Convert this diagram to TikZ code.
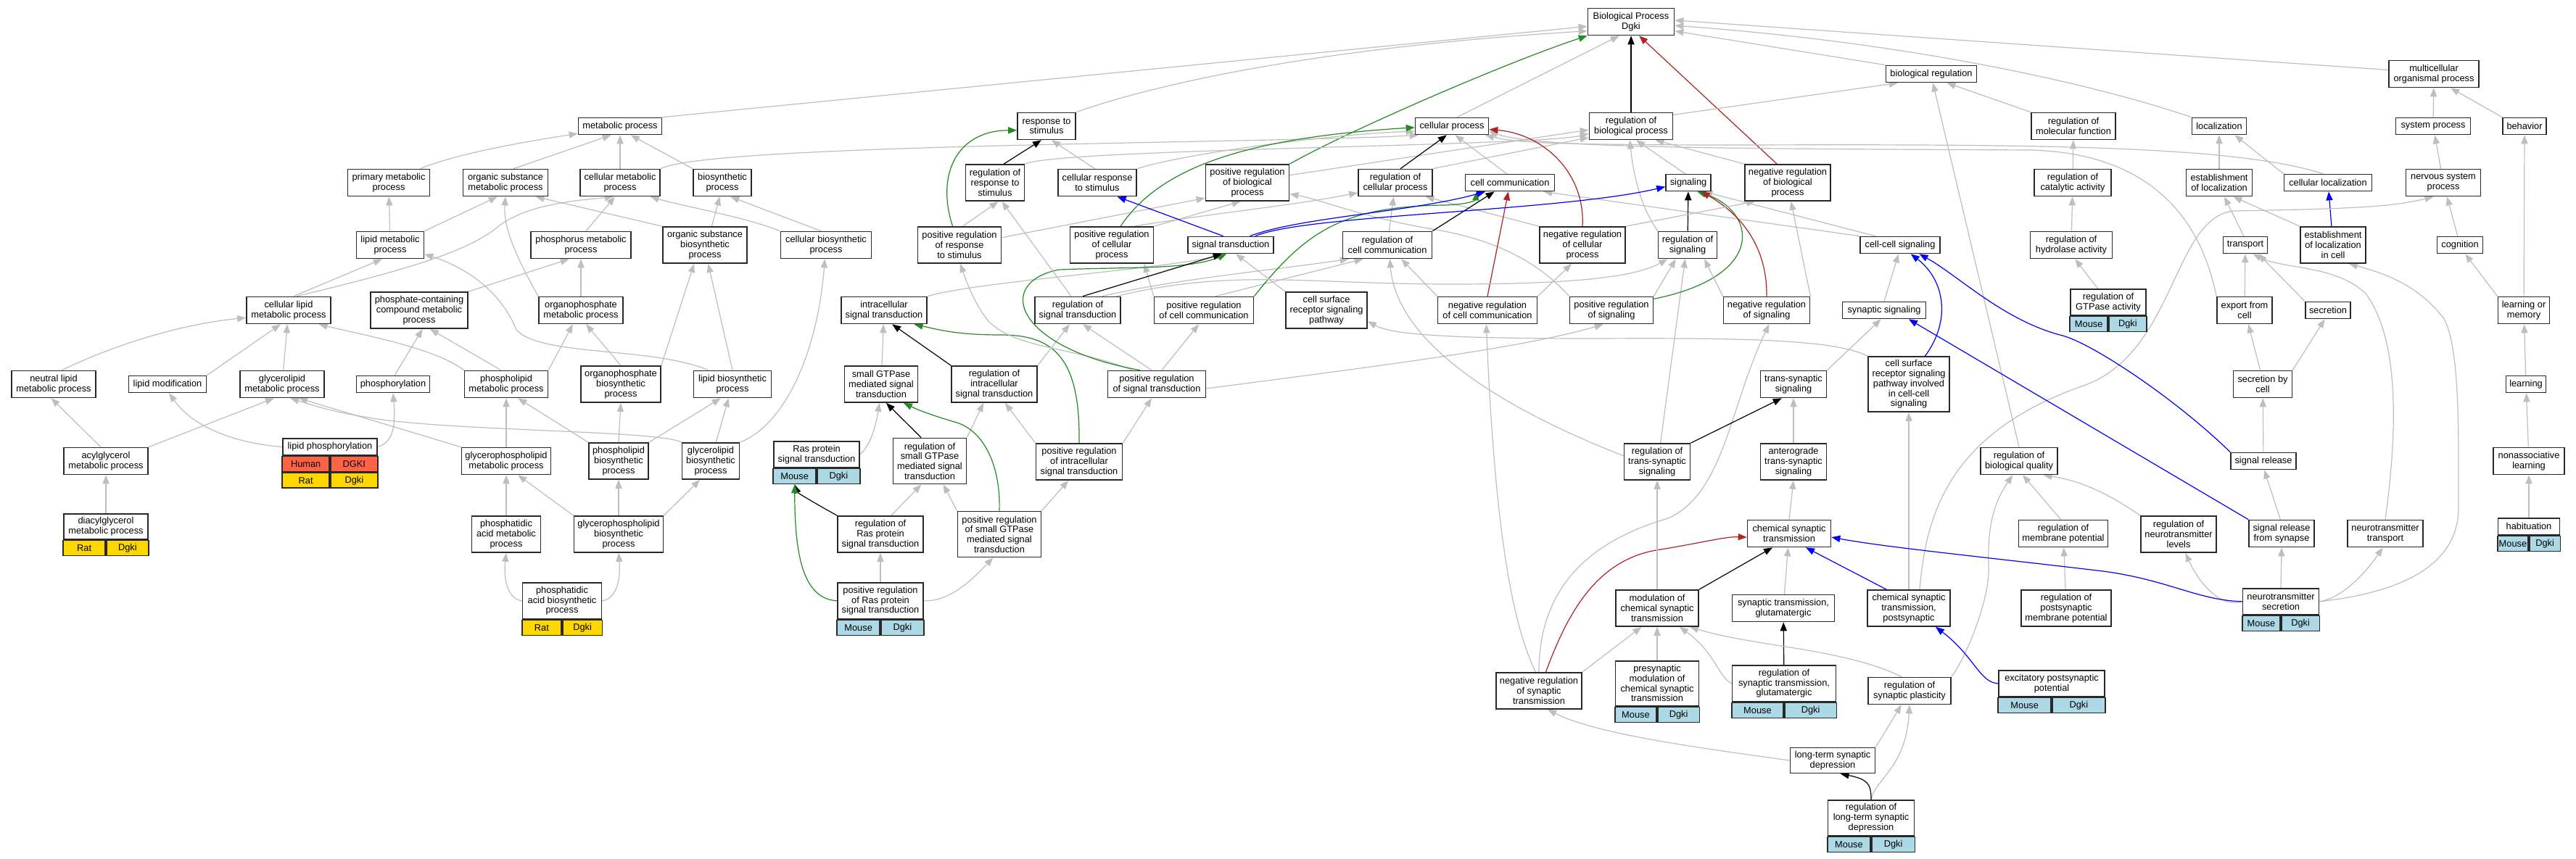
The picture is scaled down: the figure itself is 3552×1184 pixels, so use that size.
\documentclass[tikz,border=0pt]{standalone}
\usepackage{fontspec}
\setmainfont{Liberation Sans}
\usetikzlibrary{arrows.meta}
\definecolor{cgray}{RGB}{190,190,190}
\definecolor{cgreen}{RGB}{34,139,34}
\definecolor{cred}{RGB}{178,34,34}
\definecolor{cblue}{RGB}{0,0,255}
\definecolor{ctomato}{RGB}{255,99,71}
\definecolor{cgold}{RGB}{255,215,0}
\definecolor{clblue}{RGB}{173,216,230}
\definecolor{cborder}{RGB}{40,40,40}
\pgfdeclarelayer{backdrop}
\pgfdeclarelayer{edges}
\pgfsetlayers{backdrop,edges,main}
\tikzset{
  gobox/.style={draw=cborder, line width=0.85pt, fill=white, inner sep=0pt, align=center, font=\fontsize{6.4}{6.85}\selectfont},
  edgebase/.style={line width=0.6pt, -{Triangle[length=6pt,width=4.6pt]}},
  egray/.style={edgebase, draw=cgray},
  eblack/.style={edgebase, draw=black},
  egreen/.style={edgebase, draw=cgreen},
  ered/.style={edgebase, draw=cred},
  eblue/.style={edgebase, draw=cblue},
}
\newcommand\gn[6]{\node[gobox, minimum width=#4*0.5pt, minimum height=#5*0.5pt] (#1) at (#2,#3) {#6};}
\newcommand\gt[9]{%
  \node[gobox, minimum width=#4*0.5pt, minimum height=#5*0.5pt, anchor=north] (#1) at (#2,#3) {#6};
  \node[gobox, fill=#9, minimum width=#4*0.25pt, minimum height=10.5pt, anchor=north east] (#1-l) at (#1.south) {#7};
  \node[gobox, fill=#9, minimum width=#4*0.25pt, minimum height=10.5pt, anchor=north west] (#1-r) at (#1.south) {#8};
}
\begin{document}
\begin{tikzpicture}[x=0.5pt,y=-0.5pt]
\begin{pgfonlayer}{backdrop}
\fill[white] (0,0) rectangle (3552,1184);
\end{pgfonlayer}
\useasboundingbox (0,0) rectangle (3552,1184);
% ---------- nodes ----------
\gn{BP}{2249}{30}{119}{37}{Biological Process\\Dgki}
\gn{bioreg}{2663}{102}{125}{23}{biological regulation}
\gn{multi}{3356}{102}{124}{37}{multicellular\\organismal process}
\gn{metab}{855}{174}{115}{23}{metabolic process}
\gn{resp}{1443}{174}{80}{37}{response to\\stimulus}
\gn{cellproc}{2002}{174}{101}{23}{cellular process}
\gn{regbio}{2249}{174}{115}{37}{regulation of\\biological process}
\gn{regmol}{2859}{174}{116}{37}{regulation of\\molecular function}
\gn{loc}{3060}{174}{75}{23}{localization}
\gn{sysproc}{3355}{174}{103}{23}{system process}
\gn{behav}{3481}{174}{60}{23}{behavior}
%
\gn{primmet}{536}{252}{113}{37}{primary metabolic\\process}
\gn{orgmet}{697}{252}{117}{37}{organic substance\\metabolic process}
\gn{cellmet}{855}{252}{110}{37}{cellular metabolic\\process}
\gn{biosyn}{996}{252}{80}{37}{biosynthetic\\process}
\gn{regresp}{1372}{252}{81}{50}{regulation of\\response to\\stimulus}
\gn{cellresp}{1513}{252}{108}{37}{cellular response\\to stimulus}
\gn{posbio}{1720}{252}{115}{50}{positive regulation\\of biological\\process}
\gn{regcell}{1924}{252}{102}{37}{regulation of\\cellular process}
\gn{cellcomm}{2082}{252}{123}{23}{cell communication}
\gn{signaling}{2328}{252}{62}{23}{signaling}
\gn{negbio}{2465}{252}{118}{50}{negative regulation\\of biological\\process}
\gn{regcat}{2858}{252}{106}{37}{regulation of\\catalytic activity}
\gn{estloc}{3060}{252}{91}{37}{establishment\\of localization}
\gn{cellloc}{3210}{252}{121}{23}{cellular localization}
\gn{nervsys}{3369}{252}{103}{37}{nervous system\\process}
%
\gn{lipmet}{538}{338}{93}{37}{lipid metabolic\\process}
\gn{phosmet}{801}{338}{138}{37}{phosphorus metabolic\\process}
\gn{orgbiosyn}{972}{338}{116}{50}{organic substance\\biosynthetic\\process}
\gn{cellbiosyn}{1139}{338}{125}{37}{cellular biosynthetic\\process}
\gn{posresp}{1323}{338}{115}{50}{positive regulation\\of response\\to stimulus}
\gn{poscell}{1533}{338}{115}{50}{positive regulation\\of cellular\\process}
\gn{sigtrans}{1697}{338}{118}{23}{signal transduction}
\gn{regcomm}{1913}{338}{123}{37}{regulation of\\cell communication}
\gn{negcell}{2182}{338}{118}{50}{negative regulation\\of cellular\\process}
\gn{regsig}{2327}{338}{81}{37}{regulation of\\signaling}
\gn{cellcell}{2620}{338}{110}{23}{cell-cell signaling}
\gn{reghyd}{2856}{338}{113}{37}{regulation of\\hydrolase activity}
\gn{transport}{3096}{338}{61}{23}{transport}
\gn{estloccell}{3217}{338}{90}{50}{establishment\\of localization\\in cell}
\gn{cognition}{3392}{338}{63}{23}{cognition}
%
\gn{celllip}{398}{428}{116}{37}{cellular lipid\\metabolic process}
\gn{phoscont}{578}{428}{134}{50}{phosphate-containing\\compound metabolic\\process}
\gn{orgphosmet}{801}{428}{116}{37}{organophosphate\\metabolic process}
\gn{intrasig}{1219}{428}{118}{37}{intracellular\\signal transduction}
\gn{regsigtr}{1486}{428}{118}{37}{regulation of\\signal transduction}
\gn{poscomm}{1660}{428}{137}{37}{positive regulation\\of cell communication}
\gn{csrsp}{1829}{428}{112}{50}{cell surface\\receptor signaling\\pathway}
\gn{negcomm}{2051}{428}{137}{37}{negative regulation\\of cell communication}
\gn{possig}{2222}{428}{115}{37}{positive regulation\\of signaling}
\gn{negsig}{2436}{428}{119}{37}{negative regulation\\of signaling}
\gn{synsig}{2598}{428}{115}{23}{synaptic signaling}
\gt{regGTP}{2907}{398}{104}{36}{regulation of\\GTPase activity}{Mouse}{Dgki}{clblue}
\gn{export}{3095}{428}{76}{37}{export from\\cell}
\gn{secretion}{3210}{428}{62}{23}{secretion}
\gn{learnmem}{3480}{428}{71}{37}{learning or\\memory}
%
\gn{neutral}{74}{530}{116}{37}{neutral lipid\\metabolic process}
\gn{lipmod}{231}{530}{107}{23}{lipid modification}
\gn{glymet}{389}{530}{116}{37}{glycerolipid\\metabolic process}
\gn{phosph}{542}{530}{101}{23}{phosphorylation}
\gn{phlipmet}{698}{530}{115}{37}{phospholipid\\metabolic process}
\gn{orgphosbio}{856}{530}{110}{50}{organophosphate\\biosynthetic\\process}
\gn{lipbio}{1010}{530}{107}{37}{lipid biosynthetic\\process}
\gn{smallgtp}{1215}{530}{101}{50}{small GTPase\\mediated signal\\transduction}
\gn{regintra}{1371}{530}{118}{50}{regulation of\\intracellular\\signal transduction}
\gn{possigtr}{1595}{530}{135}{37}{positive regulation\\of signal transduction}
\gn{transsyn}{2473}{530}{91}{37}{trans-synaptic\\signaling}
\gn{csrcc}{2632}{530}{112}{76}{cell surface\\receptor signaling\\pathway involved\\in cell-cell\\signaling}
\gn{secbycell}{3120}{530}{81}{37}{secretion by\\cell}
\gn{learning}{3483}{530}{55}{23}{learning}
%
\gn{acyl}{146}{636}{116}{37}{acylglycerol\\metabolic process}
\node[gobox, minimum width=65pt, minimum height=11.5pt, anchor=north] (lipphos) at (455,604) {lipid phosphorylation};
\node[gobox, fill=ctomato, minimum width=32.5pt, minimum height=10.5pt, anchor=north east] (lipphos-l) at (lipphos.south) {Human};
\node[gobox, fill=ctomato, minimum width=32.5pt, minimum height=10.5pt, anchor=north west] (lipphos-r) at (lipphos.south) {DGKI};
\node[gobox, fill=cgold, minimum width=32.5pt, minimum height=10.5pt, anchor=north east] (lipphos-l2) at (lipphos-l.south east) {Rat};
\node[gobox, fill=cgold, minimum width=32.5pt, minimum height=10.5pt, anchor=north west] (lipphos-r2) at (lipphos-r.south west) {Dgki};
\gn{gpmet}{698}{636}{123}{37}{glycerophospholipid\\metabolic process}
\gn{plbio}{853}{636}{82}{50}{phospholipid\\biosynthetic\\process}
\gn{glybio}{980}{636}{79}{50}{glycerolipid\\biosynthetic\\process}
\gt{ras}{1126}{608}{118}{36}{Ras protein\\signal transduction}{Mouse}{Dgki}{clblue}
\gn{regsmall}{1282}{636}{101}{63}{regulation of\\small GTPase\\mediated signal\\transduction}
\gn{posintra}{1488}{637}{119}{50}{positive regulation\\of intracellular\\signal transduction}
\gn{regtrans}{2285}{637}{91}{50}{regulation of\\trans-synaptic\\signaling}
\gn{antero}{2473}{637}{91}{50}{anterograde\\trans-synaptic\\signaling}
\gn{regqual}{2784}{636}{106}{37}{regulation of\\biological quality}
\gn{sigrel}{3121}{636}{90}{23}{signal release}
\gn{nonassoc}{3487}{636}{98}{37}{nonassociative\\learning}
%
\gt{diacyl}{146}{708}{116}{35}{diacylglycerol\\metabolic process}{Rat}{Dgki}{cgold}
\gn{pamet}{698}{737}{95}{50}{phosphatidic\\acid metabolic\\process}
\gn{gpbio}{853}{737}{123}{50}{glycerophospholipid\\biosynthetic\\process}
\gn{regras}{1214}{737}{118}{50}{regulation of\\Ras protein\\signal transduction}
\gn{possmall}{1378}{737}{115}{63}{positive regulation\\of small GTPase\\mediated signal\\transduction}
\gn{chemsyn}{2467}{736}{115}{37}{chemical synaptic\\transmission}
\gn{regmem}{2845}{736}{123}{37}{regulation of\\membrane potential}
\gn{regnt}{3004}{737}{104}{50}{regulation of\\neurotransmitter\\levels}
\gn{sigrelsyn}{3146}{736}{90}{37}{signal release\\from synapse}
\gn{nttrans}{3289}{736}{104}{37}{neurotransmitter\\transport}
\gt{habit}{3487}{714}{85}{23}{habituation}{Mouse}{Dgki}{clblue}
%
\gt{pabio}{775}{803}{109}{50}{phosphatidic\\acid biosynthetic\\process}{Rat}{Dgki}{cgold}
\gt{posras}{1214}{803}{118}{50}{positive regulation\\of Ras protein\\signal transduction}{Mouse}{Dgki}{clblue}
\gn{modchem}{2285}{839}{114}{50}{modulation of\\chemical synaptic\\transmission}
\gn{synglu}{2459}{839}{141}{37}{synaptic transmission,\\glutamatergic}
\gn{chempost}{2632}{839}{114}{50}{chemical synaptic\\transmission,\\postsynaptic}
\gn{regpost}{2849}{839}{124}{50}{regulation of\\postsynaptic\\membrane potential}
\gt{ntsec}{3145}{811}{105}{36}{neurotransmitter\\secretion}{Mouse}{Dgki}{clblue}
%
\gn{negsyn}{2122}{953}{118}{50}{negative regulation\\of synaptic\\transmission}
\gt{presyn}{2285}{911}{115}{62}{presynaptic\\modulation of\\chemical synaptic\\transmission}{Mouse}{Dgki}{clblue}
\gt{regglu}{2460}{917}{143}{50}{regulation of\\synaptic transmission,\\glutamatergic}{Mouse}{Dgki}{clblue}
\gn{regplast}{2633}{953}{114}{37}{regulation of\\synaptic plasticity}
\gt{epsp}{2829}{924}{146}{36}{excitatory postsynaptic\\potential}{Mouse}{Dgki}{clblue}
%
\gn{ltd}{2527}{1049}{117}{35}{long-term synaptic\\depression}
\gt{regltd}{2580}{1103}{119}{49}{regulation of\\long-term synaptic\\depression}{Mouse}{Dgki}{clblue}

% ---------- edges ----------
\begin{pgfonlayer}{edges}
% top level
\draw[egray] (metab.north east) -- (BP.186);
\draw[egray] (resp.north east) .. controls (1640,100) and (1900,60) .. (BP.192);
\draw[egray] (cellproc.60) -- (BP.230);
\draw[egray] (bioreg.north west) -- (BP.-12);
\draw[egray] (loc.north west) .. controls (2900,120) and (2650,60) .. (BP.-5);
\draw[egray] (multi.175) -- (BP.2);
\draw[eblack] (regbio) -- (BP);
\draw[ered] (negbio.120) -- (BP.-60);
\draw[egreen] (posbio.north east) .. controls (1860,180) and (2080,85) .. (BP.south west);
% metabolic
\draw[egray] (primmet.24) .. controls (630,212) and (720,196) .. (metab.190);
\draw[egray] (orgmet.60) -- (metab.-135);
\draw[egray] (cellmet) -- (metab);
\draw[egray] (biosyn.north west) -- (metab.-40);
\draw[egray] (lipmet) -- (primmet);
\draw[egray] (lipmet.north east) -- (orgmet.-120);
\draw[egray] (phosmet.70) -- (cellmet.-110);
\draw[egray] (celllip.70) -- (lipmet.-120);
\draw[egray] (celllip.60) .. controls (570,370) and (650,345) .. (690,310) .. controls (730,283) and (780,278) .. (cellmet.-115);
\draw[egray] (phoscont.north east) -- (phosmet.-130);
\draw[egray] (lipbio.150) .. controls (900,478) and (745,492) .. (712,455) .. controls (690,400) and (640,368) .. (lipmet.-15);
\draw[egray] (orgphosmet.north west) .. controls (722,372) and (693,320) .. (orgmet.south);
\draw[egray] (orgphosmet) -- (phosmet);
\draw[egray] (orgbiosyn.north west) -- (orgmet.-25);
\draw[egray] (orgbiosyn.70) -- (biosyn.-100);
\draw[egray] (cellbiosyn.110) -- (biosyn.-60);
\draw[egray] (cellbiosyn.north west) .. controls (1030,300) and (940,284) .. (cellmet.-25);
\draw[egray] (cellmet.north east) .. controls (980,198) and (1750,198) .. (cellproc.195);
% lipid
\draw[egray] (neutral.60) .. controls (170,470) and (260,446) .. (celllip.190);
\draw[egray] (lipmod.north east) -- (celllip.-120);
\draw[egray] (glymet) -- (celllip);
\draw[egray] (phlipmet.north west) .. controls (600,480) and (500,462) .. (celllip.-25);
\draw[egray] (phlipmet.110) -- (phoscont.-60);
\draw[egray] (phlipmet.north east) -- (orgphosmet.-120);
\draw[egray] (phosph.80) -- (phoscont.-80);
\draw[egray] (acyl.110) -- (neutral.-100);
\draw[egray] (acyl.north east) -- (glymet.-120);
\draw[egray] (diacyl) -- (acyl);
\draw[egray] (lipphos.west) .. controls (330,612) and (268,592) .. (lipmod.-80);
\draw[egray] (lipphos.east) .. controls (545,610) and (545,580) .. (phosph.south);
\draw[egray] (gpmet) -- (phlipmet);
\draw[egray] (gpmet.north west) -- (glymet.-40);
\draw[egray] (glybio.north west) .. controls (910,594) and (640,595) .. (520,578) .. controls (470,570) and (450,565) .. (glymet.-60);
\draw[egray] (glybio) -- (lipbio);
\draw[egray] (glybio.north east) .. controls (1085,585) and (1128,480) .. (cellbiosyn.-95);
\draw[egray] (plbio.north west) -- (phlipmet.-50);
\draw[egray] (plbio.north) -- (orgphosbio.south);
\draw[egray] (plbio.north east) -- (lipbio.-130);
\draw[egray] (gpbio.north west) -- (gpmet.-50);
\draw[egray] (gpbio.north) -- (plbio.south);
\draw[egray] (gpbio.north east) -- (glybio.-120);
\draw[egray] (pamet) -- (gpmet);
\draw[egray] (pabio.west) .. controls (700,826) and (694,800) .. (pamet.south);
\draw[egray] (pabio.east) .. controls (850,826) and (856,800) .. (gpbio.south);
\draw[egray] (orgphosbio.north) -- (orgphosmet.-70);
\draw[egray] (orgphosbio.north east) -- (orgbiosyn.-120);
\draw[egray] (lipbio.north) -- (orgbiosyn.-80);
% response / regulation
\draw[egray] (regresp.north east) .. controls (1460,205) and (2120,202) .. (regbio.190);
\draw[eblack] (regresp.65) -- (resp.-110);
\draw[egray] (cellresp.100) -- (resp.-70);
\draw[egray] (cellresp.north east) .. controls (1640,210) and (1850,184) .. (cellproc.188);
\draw[egray] (posresp.80) -- (regresp.-80);
\draw[egray] (posresp.10) -- (posbio.-160);
\draw[egreen] (posresp.110) .. controls (1290,240) and (1320,180) .. (resp.188);
\draw[egray] (poscell.north east) -- (posbio.-110);
\draw[egray] (poscell.40) .. controls (1680,293) and (1780,284) .. (regcell.-165);
\draw[egreen] (poscell.65) .. controls (1600,230) and (1720,190) .. (cellproc.182);
\draw[egray] (posbio.10) -- (regbio.185);
\draw[egray] (regcell.north east) -- (regbio.195);
\draw[eblack] (regcell.70) -- (cellproc.-120);
\draw[egray] (cellcomm.110) -- (cellproc.-70);
\draw[egray] (signaling.110) -- (regbio.-70);
\draw[egray] (negbio.north west) -- (regbio.-30);
\draw[egray] (regsig.north west) .. controls (2262,285) and (2252,240) .. (regbio.-95);
\draw[egray] (regbio.15) -- (bioreg.-165);
\draw[egray] (regmol.north west) -- (bioreg.-30);
\draw[egray] (regcat) -- (regmol);
\draw[egray] (reghyd) -- (regcat);
\draw[egray] (regGTP) -- (reghyd.-75);
% localization / behaviour
\draw[egray] (estloc) -- (loc);
\draw[egray] (cellloc.north west) -- (loc.-30);
\draw[egray] (transport.100) -- (estloc.-70);
\draw[egray] (estloccell.north west) -- (estloc.-45);
\draw[eblue] (estloccell) -- (cellloc);
\draw[egray] (sysproc) -- (multi);
\draw[egray] (behav.north west) -- (multi.-40);
\draw[egray] (nervsys) -- (sysproc);
\draw[egray] (cognition) -- (nervsys);
\draw[egray] (learnmem.north west) -- (cognition.-60);
\draw[egray] (learnmem) -- (behav);
\draw[egray] (learning) -- (learnmem);
\draw[egray] (nonassoc) -- (learning);
\draw[egray] (habit) -- (nonassoc);
\draw[egray] (cellloc.120) .. controls (3080,200) and (2800,199) .. (2400,200) .. controls (2150,200) and (2090,197) .. (cellproc.-15);
\draw[egray] (export.north west) .. controls (3040,330) and (2990,212) .. (2800,207) .. controls (2400,205) and (2120,205) .. (cellproc.-8);
\draw[egray] (export) -- (transport);
\draw[egray] (secretion.north west) -- (transport.-35);
\draw[egray] (nttrans.north) .. controls (3305,600) and (3310,470) .. (3262,405) .. controls (3220,365) and (3150,372) .. (transport.-50);
\draw[egray] (ntsec.east) .. controls (3330,815) and (3390,770) .. (3390,700) .. controls (3390,600) and (3392,480) .. (3370,440) .. controls (3340,400) and (3300,380) .. (estloccell.-50);
\draw[egray] (secbycell.100) -- (export.-75);
\draw[egray] (secbycell.north east) -- (secretion.-110);
\draw[egray] (sigrel) -- (secbycell);
\draw[egray] (sigrelsyn.95) -- (sigrel.-85);
\draw[egray] (ntsec.north) -- (sigrelsyn.south);
\draw[egray] (ntsec.west) .. controls (3060,840) and (3030,800) .. (regnt.-70);
\draw[egray] (ntsec.east) .. controls (3230,825) and (3262,790) .. (nttrans.-100);
\draw[egray] (regnt.north west) .. controls (2920,690) and (2880,665) .. (regqual.-30);
\draw[egray] (regmem.100) -- (regqual.-75);
\draw[egray] (regpost) -- (regmem);
\draw[egray] (regqual.north) -- (bioreg.-80);
\draw[egray] (regplast.north east) .. controls (2715,900) and (2745,820) .. (2742,780) .. controls (2740,720) and (2752,690) .. (regqual.-115);
\draw[egray] (chempost.60) .. controls (2655,720) and (2680,600) .. (2870,533) .. controls (3000,490) and (2995,300) .. (3080,291) .. controls (3250,288) and (3300,285) .. (nervsys.-125);
\draw[egray] (chempost.north) -- (csrcc.south);
% synaptic
\draw[egray] (synsig.north) -- (cellcell.-100);
\draw[egray] (transsyn.north east) -- (synsig.-110);
\draw[egray] (antero) -- (transsyn);
\draw[egray] (chemsyn.north) -- (antero.south);
\draw[egray] (synglu) -- (chemsyn);
\draw[eblack] (regglu) -- (synglu);
\draw[egray] (regglu.west) .. controls (2370,935) and (2365,900) .. (modchem.-40);
\draw[egray] (presyn) -- (modchem);
\draw[egray] (negsyn.north east) -- (modchem.-130);
\draw[egray] (regplast.120) .. controls (2545,895) and (2420,892) .. (modchem.-30);
\draw[egray] (negsyn.100) .. controls (2080,850) and (2060,700) .. (negcomm.-95);
\draw[egray] (negsyn.north) .. controls (2122,820) and (2180,750) .. (2300,715) .. controls (2378,680) and (2385,560) .. (negsig.-80);
\draw[ered] (negsyn.70) .. controls (2160,850) and (2200,770) .. (2290,758) .. controls (2350,748) and (2380,740) .. (chemsyn.185);
\draw[egray] (modchem.north) -- (regtrans.south);
\draw[eblack] (modchem.north east) -- (chemsyn.-140);
\draw[eblack] (regtrans.north east) -- (transsyn.-130);
\draw[egray] (regtrans.170) .. controls (2050,555) and (1925,465) .. (regcomm.-80);
\draw[egray] (regtrans.80) -- (regsig.-100);
\draw[egray] (ltd.north east) -- (regplast.-120);
\draw[egray] (ltd.west) .. controls (2330,1030) and (2200,1012) .. (negsyn.-65);
\draw[egray] (regltd.north) .. controls (2585,1075) and (2628,1060) .. (regplast.-90);
\draw[eblack] (regltd.north) .. controls (2580,1082) and (2576,1075) .. (ltd.-60);
\draw[eblue] (chempost.140) -- (chemsyn.-40);
\draw[eblue] (epsp.west) .. controls (2730,942) and (2722,905) .. (chempost.-35);
\draw[eblue] (ntsec.west) .. controls (3030,828) and (2990,800) .. (2900,788) .. controls (2750,770) and (2600,755) .. (chemsyn.-5);
\draw[eblue] (sigrelsyn.north west) -- (synsig.-20);
\draw[eblue] (sigrel.north west) .. controls (3000,550) and (2880,470) .. (2840,462) .. controls (2760,440) and (2700,380) .. (cellcell.-25);
\draw[eblue] (csrcc.60) .. controls (2692,440) and (2680,385) .. (cellcell.-40);
% signalling
\draw[egray] (cellcell.north west) -- (cellcomm.-15);
\draw[egray] (cellcell.160) -- (signaling.-30);
\draw[eblack] (regsig) -- (signaling);
\draw[egreen] (possig.15) .. controls (2440,380) and (2420,290) .. (signaling.-45);
\draw[ered] (negsig.north) .. controls (2437,340) and (2400,295) .. (signaling.-35);
\draw[egray] (possig.north east) -- (regsig.-130);
\draw[egray] (possig.north west) .. controls (2120,360) and (2060,330) .. (1975,316) .. controls (1880,300) and (1820,275) .. (posbio.-15);
\draw[egray] (negsig.north west) -- (regsig.-40);
\draw[egray] (negsig.north east) -- (negbio.-80);
\draw[egray] (negcell.north west) -- (regcell.-25);
\draw[egray] (negcell.north east) -- (negbio.-150);
\draw[ered] (negcell.north) .. controls (2186,240) and (2130,185) .. (cellproc.-5);
\draw[egray] (negcomm.north west) -- (regcomm.-45);
\draw[egray] (negcomm.north east) -- (negcell.-120);
\draw[ered] (negcomm.north) -- (cellcomm.-100);
\draw[egray] (regcomm) -- (regcell);
\draw[eblack] (regcomm.north east) -- (cellcomm.-150);
\draw[egray] (poscomm.north west) -- (poscell.-30);
\draw[egray] (poscomm.50) -- (regcomm.-150);
\draw[egray] (regsigtr.30) .. controls (1620,385) and (1760,372) .. (regcomm.-160);
\draw[egreen] (poscomm.north east) .. controls (1800,320) and (1850,285) .. (1990,283) .. controls (2030,282) and (2035,275) .. (cellcomm.-165);
\draw[egray] (csrcc.north west) .. controls (2530,468) and (2400,466) .. (2200,467) .. controls (2000,467) and (1920,462) .. (csrsp.-15);
\draw[egray] (csrsp.north west) -- (sigtrans.-60);
\draw[egray] (intrasig.north east) .. controls (1350,388) and (1600,372) .. (sigtrans.-120);
\draw[eblue] (sigtrans.130) -- (cellresp.-35);
\draw[eblue] (sigtrans.25) .. controls (1790,300) and (1950,292) .. (cellcomm.-160);
\draw[eblue] (sigtrans.20) .. controls (1800,296) and (2150,292) .. (signaling.-170);
\draw[egray] (smallgtp) -- (intrasig);
\draw[eblack] (regintra.north west) -- (intrasig.-60);
\draw[egreen] (posintra.north) .. controls (1490,490) and (1450,462) .. (1380,462) .. controls (1320,462) and (1295,455) .. (intrasig.-25);
\draw[egray] (regintra.north east) -- (regsigtr.-120);
\draw[egray] (posintra.north west) -- (regintra.-60);
\draw[egray] (posintra.north east) -- (possigtr.-110);
\draw[egray] (possigtr.110) -- (regsigtr.-70);
\draw[egray] (possigtr.70) -- (poscomm.-110);
\draw[egray] (possigtr.-5) .. controls (1900,505) and (2100,480) .. (possig.-120);
\draw[egray] (possigtr.150) .. controls (1480,478) and (1400,482) .. (1362,442) .. controls (1345,420) and (1335,395) .. (posresp.-88);
\draw[egreen] (possigtr.140) .. controls (1400,480) and (1370,390) .. (1460,372) .. controls (1560,368) and (1640,372) .. (sigtrans.-115);
\draw[eblack] (regsigtr.70) -- (sigtrans.-135);
\draw[egray] (regsigtr.115) -- (regresp.-70);
\draw[egray] (regsigtr.20) .. controls (1700,370) and (1800,392) .. (2000,392) .. controls (2200,392) and (2262,378) .. (regsig.-145);
\draw[eblack] (regsmall.110) -- (smallgtp.-75);
\draw[egray] (regsmall.north east) -- (regintra.-120);
\draw[egray] (possmall.north west) -- (regsmall.-60);
\draw[egray] (possmall.north east) -- (posintra.-120);
\draw[egreen] (possmall.north) .. controls (1380,640) and (1355,592) .. (1316,582) .. controls (1282,572) and (1265,565) .. (smallgtp.-40);
\draw[egray] (ras.east) .. controls (1200,615) and (1207,590) .. (smallgtp.-95);
\draw[egray] (regras.60) -- (regsmall.-110);
\draw[eblack] (regras.north west) .. controls (1125,695) and (1100,680) .. (ras-l.south);
\draw[egray] (posras.north) -- (regras.south);
\draw[egray] (posras.east) .. controls (1310,830) and (1340,800) .. (possmall.-105);
\draw[egreen] (posras.west) .. controls (1105,826) and (1096,760) .. (ras-l.south);
\end{pgfonlayer}
\end{tikzpicture}
\end{document}
